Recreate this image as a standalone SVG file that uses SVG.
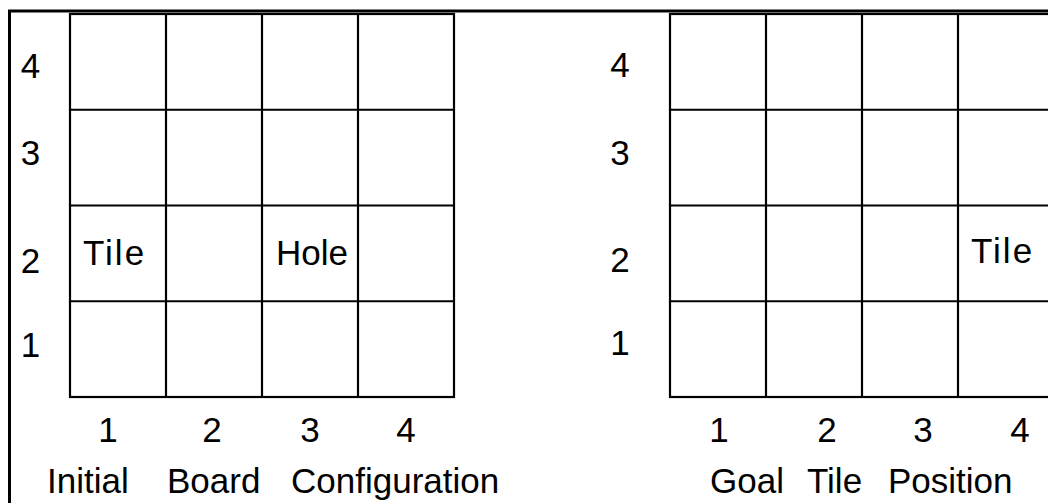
<svg xmlns="http://www.w3.org/2000/svg" width="1048" height="503" viewBox="0 0 1048 503">
  <style>
    .frame { fill: none; stroke: #000; stroke-width: 3; }
    .grid { fill: none; stroke: #000; stroke-width: 2.2; }
    .t { font-family: "Liberation Sans", Arial, sans-serif; font-size: 35px; fill: #000; }
    .m { text-anchor: middle; }
    .cell { letter-spacing: 2px; }
  </style>
  <rect width="1048" height="503" fill="#fff"/>
  <g id="frame">
    <polyline class="frame" points="9.5,503 9.5,11 1048,11"/>
  </g>
  <g id="initial-board">
    <rect class="grid" x="70" y="14" width="384" height="383"/>
    <path class="grid" d="M166,14V397M262,14V397M358,14V397M70,109.75H454M70,205.5H454M70,301.25H454"/>
    <text class="t cell" x="83" y="265">Tile</text>
    <text class="t" x="276" y="265">Hole</text>
  </g>
  <g id="goal-board">
    <rect class="grid" x="670" y="14" width="384" height="383"/>
    <path class="grid" d="M766,14V397M862,14V397M958,14V397M670,109.75H1054M670,205.5H1054M670,301.25H1054"/>
    <text class="t cell" x="971" y="263">Tile</text>
  </g>
  <g id="initial-labels">
    <text class="t m" x="30.5" y="78">4</text>
    <text class="t m" x="30.5" y="165">3</text>
    <text class="t m" x="30.5" y="273">2</text>
    <text class="t m" x="30.5" y="357">1</text>
    <text class="t m" x="108" y="442">1</text>
    <text class="t m" x="212" y="442">2</text>
    <text class="t m" x="310" y="442">3</text>
    <text class="t m" x="406" y="442">4</text>
    <text class="t" x="47" y="493">Initial</text>
    <text class="t" x="167" y="493">Board</text>
    <text class="t" x="291" y="493">Configuration</text>
  </g>
  <g id="goal-labels">
    <text class="t m" x="620" y="77">4</text>
    <text class="t m" x="620" y="165">3</text>
    <text class="t m" x="620" y="272">2</text>
    <text class="t m" x="620" y="355">1</text>
    <text class="t m" x="719" y="442">1</text>
    <text class="t m" x="827" y="442">2</text>
    <text class="t m" x="923" y="442">3</text>
    <text class="t m" x="1020" y="442">4</text>
    <text class="t" x="710" y="493">Goal</text>
    <text class="t" x="807" y="493">Tile</text>
    <text class="t" x="888" y="493">Position</text>
  </g>
</svg>
